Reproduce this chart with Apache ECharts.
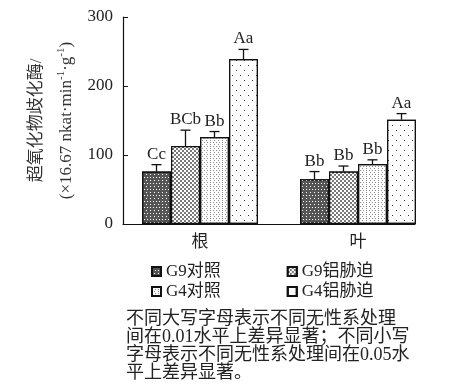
<!DOCTYPE html>
<html><head><meta charset="utf-8">
<script src="https://cdn.jsdelivr.net/npm/echarts@6/dist/echarts.min.js"></script>
<style>html,body{margin:0;padding:0;background:#fff}#c{width:465px;height:386px}</style>
</head><body><div id="c"></div>
<script>
const categories = ['根', '叶'];
const seriesNames = ['G9对照', 'G9铝胁迫', 'G4对照', 'G4铝胁迫'];
const g9Control = [76, 65];
const g9Al = [113, 76];
const g4Control = [126, 87];
const g4Al = [239, 151];
const g9ControlErr = [10, 11];
const g9AlErr = [23, 8];
const g4ControlErr = [8, 6];
const g4AlErr = [14, 9];
const g9ControlSig = ['Cc', 'Bb'];
const g9AlSig = ['BCb', 'Bb'];
const g4ControlSig = ['Bb', 'Bb'];
const g4AlSig = ['Aa', 'Aa'];
const yTicks = [0, 100, 200, 300];
const noteText = '不同大写字母表示不同无性系处理\n间在0.01水平上差异显著；不同小写\n字母表示不同无性系处理间在0.05水\n平上差异显著。';

const FONT = '"Liberation Serif", "Noto Sans CJK SC", serif';
const BAR_W = 29;
const values = [g9Control, g9Al, g4Control, g4Al];
const errs = [g9ControlErr, g9AlErr, g4ControlErr, g4AlErr];
const sigs = [g9ControlSig, g9AlSig, g4ControlSig, g4AlSig];

const styles = [
  { color: '#555555', decal: { symbol: 'rect', symbolSize: 1, color: '#ffffff', dashArrayX: [[1, 2], [0, 1.5, 1, 0.5]], dashArrayY: [1, 1.5] } },
  { color: '#7a7a7a', decal: { symbol: 'rect', symbolSize: 1, color: '#ffffff', dashArrayX: [[1.5, 1.5], [0, 1.5, 1.5, 0]], dashArrayY: [1.5, 0] } },
  { color: '#ffffff', decal: { symbol: 'rect', symbolSize: 1, color: '#8a8a8a', dashArrayX: [[1, 2], [0, 1.5, 1, 0.5]], dashArrayY: [1, 1] } },
  { color: '#ffffff', decal: { symbol: 'rect', symbolSize: 1, color: '#333333', dashArrayX: [[1, 7], [0, 4, 1, 3]], dashArrayY: [1, 4] } }
];

const barSeries = seriesNames.map((name, i) => ({
  name: name,
  type: 'bar',
  xAxisIndex: 0, yAxisIndex: 0,
  data: values[i],
  barWidth: BAR_W,
  barGap: '0%',
  itemStyle: { color: styles[i].color, decal: styles[i].decal, borderColor: '#111', borderWidth: 1.2 },
  z: 2
}));

const errData = [];
values.forEach((arr, si) => arr.forEach((v, ci) => errData.push([ci, v, errs[si][ci], si])));

const errSeries = {
  type: 'custom',
  xAxisIndex: 0, yAxisIndex: 0,
  z: 5,
  data: errData,
  renderItem: function (params, api) {
    const ci = api.value(0), v = api.value(1), e = api.value(2), si = api.value(3);
    const base = api.coord([ci, v]);
    const top = api.coord([ci, v + e]);
    const x = base[0] + (si - 1.5) * BAR_W;
    return {
      type: 'group',
      children: [
        { type: 'line', shape: { x1: x, y1: base[1], x2: x, y2: top[1] }, style: { stroke: '#111', lineWidth: 1.3 } },
        { type: 'line', shape: { x1: x - 5, y1: top[1], x2: x + 5, y2: top[1] }, style: { stroke: '#111', lineWidth: 1.3 } },
        { type: 'text', style: { text: sigs[si][ci], x: x, y: top[1] - 2, align: 'center', verticalAlign: 'bottom', fontSize: 17, fontFamily: FONT, fill: '#222' } }
      ]
    };
  }
};

const chart = echarts.init(document.getElementById('c'), null, { renderer: 'canvas' });
chart.setOption({
  animation: false,
  backgroundColor: '#fff',
  title: {
    text: noteText,
    left: 121, top: 305,
    textStyle: { fontSize: 18, fontWeight: 'normal', lineHeight: 18, fontFamily: FONT, color: '#222' }
  },
  legend: [
    { data: [seriesNames[0], seriesNames[1]], left: 146, top: 258, itemWidth: 9, itemHeight: 9, itemGap: 66,
      textStyle: { fontSize: 17, fontFamily: FONT, color: '#222' }, icon: 'rect' },
    { data: [seriesNames[2], seriesNames[3]], left: 146, top: 278, itemWidth: 9, itemHeight: 9, itemGap: 66,
      textStyle: { fontSize: 17, fontFamily: FONT, color: '#222' }, icon: 'rect' }
  ],
  grid: [
    { left: 121, right: 28, top: 17, bottom: 162 },
    { left: 123, right: 50, top: 17, bottom: 162 }
  ],
  xAxis: [
    { type: 'category', gridIndex: 0, data: categories, axisLine: { show: false }, axisTick: { show: false },
      axisLabel: { fontSize: 17, fontFamily: FONT, color: '#222', margin: 10 } },
    { type: 'value', gridIndex: 1, min: 0, max: 1, axisLine: { show: true, lineStyle: { color: '#111', width: 1.2 } },
      axisTick: { show: false }, axisLabel: { show: false }, splitLine: { show: false } }
  ],
  yAxis: [
    { type: 'value', gridIndex: 0, min: 0, max: 300, interval: 100, show: false },
    { type: 'value', gridIndex: 1, min: yTicks[0], max: yTicks[yTicks.length - 1], interval: 100,
      axisLine: { show: true, lineStyle: { color: '#111', width: 1.2 } },
      axisTick: { show: true, inside: true, length: 5, lineStyle: { color: '#111' } },
      splitLine: { show: false },
      axisLabel: { fontSize: 17, fontFamily: FONT, color: '#222', margin: 10 },
      name: '{a|超氧化物歧化酶/}\n{a|(×16.67 nkat·min}{s|-1}{a|·g}{s|-1}{a|)}',
      nameLocation: 'middle', nameGap: 30, nameRotate: 90,
      nameTextStyle: {
        rich: {
          a: { fontSize: 17, fontFamily: FONT, color: '#333', lineHeight: 30 },
          s: { fontSize: 11, fontFamily: FONT, color: '#333', lineHeight: 12, padding: [0, 0, 10, 0] }
        }
      }
    }
  ],
  series: barSeries.concat([errSeries])
});
</script></body></html>
